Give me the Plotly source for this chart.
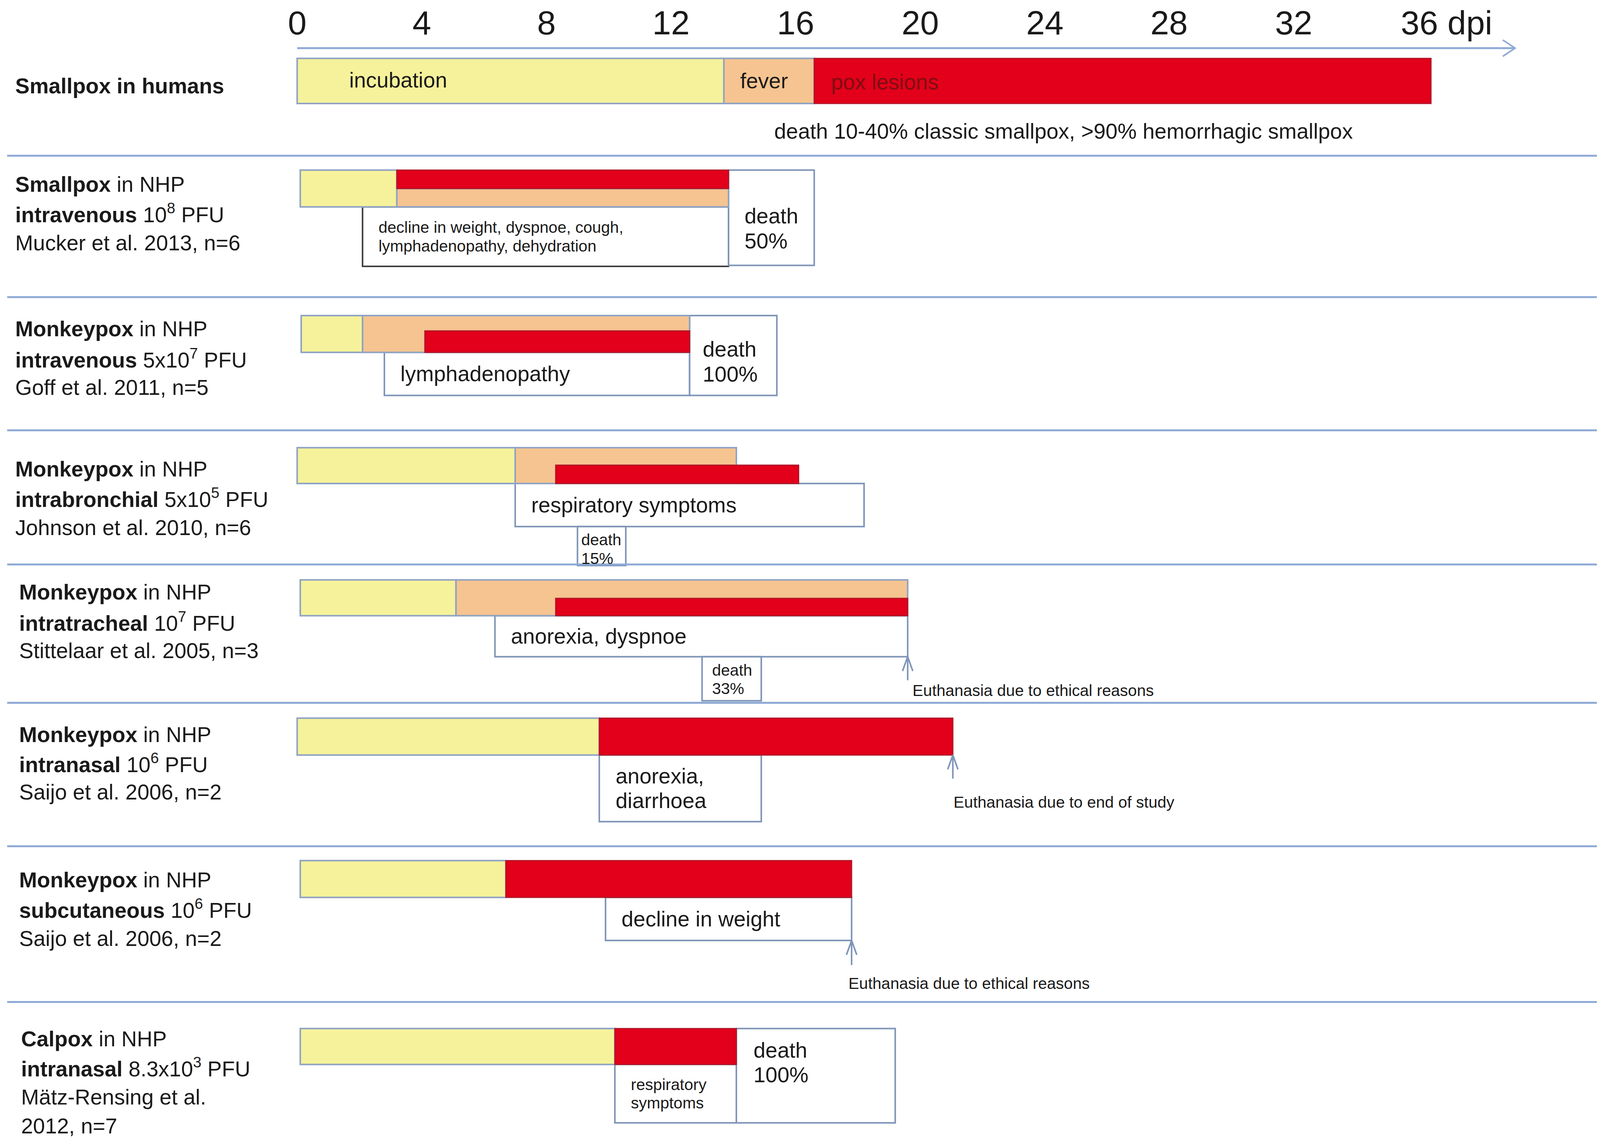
import plotly.graph_objects as go

WIN_W, WIN_H = 4113, 2924
S = WIN_W / 1568.0      # reference-pixel to output-pixel scale
MARGIN = 8              # browser default body margin (px)
W, H = WIN_W - 2 * MARGIN, WIN_H - 2 * MARGIN   # figure fits the window without scrollbars
PX_PER_DAY = 30.4       # reference pixels per day
X0_PX = 290.0           # reference pixel of day 0
PAGE_OFF = MARGIN / S   # page margin in reference pixels

# ---------------- data (days post infection) ----------------
row_names = ["Smallpox humans", "Smallpox NHP iv", "Monkeypox NHP iv", "Monkeypox NHP ib",
             "Monkeypox NHP it", "Monkeypox NHP in", "Monkeypox NHP sc", "Calpox NHP in"]
label_lines = [
    ["<b>Smallpox in humans</b>"],
    ["<b>Smallpox</b> in NHP", "<b>intravenous</b> 10<sup>8</sup> PFU", "Mucker et al. 2013, n=6"],
    ["<b>Monkeypox</b> in NHP", "<b>intravenous</b> 5x10<sup>7</sup> PFU", "Goff et al. 2011, n=5"],
    ["<b>Monkeypox</b> in NHP", "<b>intrabronchial</b> 5x10<sup>5</sup> PFU", "Johnson et al. 2010, n=6"],
    ["<b>Monkeypox</b> in NHP", "<b>intratracheal</b> 10<sup>7</sup> PFU", "Stittelaar et al. 2005, n=3"],
    ["<b>Monkeypox</b> in NHP", "<b>intranasal</b> 10<sup>6</sup> PFU", "Saijo et al. 2006, n=2"],
    ["<b>Monkeypox</b> in NHP", "<b>subcutaneous</b> 10<sup>6</sup> PFU", "Saijo et al. 2006, n=2"],
    ["<b>Calpox</b> in NHP", "<b>intranasal</b> 8.3x10<sup>3</sup> PFU", "Mätz-Rensing et al.", "2012, n=7"],
]
incub_start = [0.0, 0.1, 0.13, 0.0, 0.1, 0.0, 0.1, 0.1]
incub_end = [13.7, 3.2, 2.1, 7.0, 5.1, 9.7, 6.7, 10.2]
fever_start = [13.7, 3.2, 2.1, 7.0, 5.1, None, None, None]
fever_end = [16.6, 13.85, 12.6, 14.1, 19.6, None, None, None]
lesion_start = [16.6, 3.2, 4.1, 8.3, 8.3, 9.7, 6.7, 10.2]
lesion_end = [36.4, 13.85, 12.6, 16.1, 19.6, 21.05, 17.8, 14.1]
symptom_start = [None, 2.1, 2.8, 7.0, 6.35, 9.7, 9.9, 10.2]
symptom_end = [None, 13.85, 12.6, 18.2, 19.6, 14.9, 17.8, 14.1]
symptom_text = [None,
                "decline in weight, dyspnoe, cough,<br>lymphadenopathy, dehydration",
                "lymphadenopathy", "respiratory symptoms", "anorexia, dyspnoe",
                "anorexia,<br>diarrhoea", "decline in weight", "respiratory<br>symptoms"]
death_start = [None, 13.85, 12.6, 9.0, 13.0, None, None, 14.1]
death_end = [None, 16.6, 15.4, 10.55, 14.9, None, None, 19.2]
death_text = [None, "death<br>50%", "death<br>100%", "death<br>15%", "death<br>33%",
              None, None, "death<br>100%"]
euth_day = [None, None, None, None, 19.6, 21.05, 17.8, None]
euth_text = [None, None, None, None, "Euthanasia due to ethical reasons",
             "Euthanasia due to end of study", "Euthanasia due to ethical reasons", None]
human_phase_text = ["incubation", "fever", "pox lesions"]
human_note = "death 10-40% classic smallpox, >90% hemorrhagic smallpox"
tick_vals = [0, 4, 8, 12, 16, 20, 24, 28, 32, 36]
tick_text = ["0", "4", "8", "12", "16", "20", "24", "28", "32", "36 dpi"]
axis_end_day = 39.1

# ---------------- layout (reference pixels, y downwards) ----------------
label_y = [[84], [180, 208, 237], [321, 350, 378], [458, 486, 515], [578, 607, 635],
           [717, 745, 773], [859, 887, 916], [1014, 1042, 1071, 1099]]
label_x = [14, 14, 14, 14, 18, 18, 18, 20]
bar_top = [57, 166, 308, 437, 566, 701, 840, 1004]
bar_bot = [101, 202, 344, 472, 601, 737, 876, 1039]
fever_y = [(57, 101), (184, 202), (308, 344), (437, 472), (566, 601), None, None, None]
lesion_y = [(57, 101), (166, 184), (323, 344), (454, 472), (584, 601), (701, 737), (840, 876), (1004, 1039)]
symptom_y = [None, (202, 260), (344, 386), (472, 514), (601, 641), (737, 802), (876, 918), (1039, 1096)]
symptom_small = [False, True, False, False, False, False, False, True]
symptom_border = [None, "#3f3f3f", "#7f95b8", "#7f95b8", "#7f95b8", "#7f95b8", "#7f95b8", "#7f95b8"]
death_y = [None, (166, 259), (308, 386), (514, 552), (641, 684), None, None, (1004, 1096)]
death_text_y = [None, 223, 353, 536, 663, None, None, 1037]
death_text_dx = [None, 15, 12, 3, 9, None, None, 16]
death_small = [None, False, False, True, True, None, None, False]
euth_y = [None, None, None, None, (664, 641), (760, 737), (942, 918), None]
euth_text_pos = [None, None, None, None, (4, 674), (0, 783), (-4, 960), None]
sep_y = [152, 290, 420, 551, 686, 826, 978]
axis_y = 47

YELLOW = "#f6f29b"
ORANGE = "#f6c490"
RED = "#e2001a"
EDGE = "#8fa3c4"
SEP = "#8eaad6"
FONT = "Liberation Sans, Arial, sans-serif"
F_BIG = 55
F_SMALL = 41
F_TICK = 86

# visible window in reference pixels (compensating the page margin)
X_LO = PAGE_OFF
X_HI = PAGE_OFF + W / S
Y_LO = PAGE_OFF
Y_HI = PAGE_OFF + H / S


def bar_trace(starts, ends, spans, color, edge, edge_w):
    base, length, yc, wd, ec = [], [], [], [], []
    for i, (a, b, sp) in enumerate(zip(starts, ends, spans)):
        if a is None or sp is None:
            continue
        base.append(a)
        length.append(b - a)
        yc.append((sp[0] + sp[1]) / 2)
        wd.append(sp[1] - sp[0])
        ec.append(edge[i] if isinstance(edge, list) else edge)
    return go.Bar(orientation="h", base=base, x=length, y=yc, width=wd,
                  marker=dict(color=color, line=dict(color=ec, width=edge_w)),
                  hoverinfo="skip", showlegend=False)


def px2day(px):
    return (px - X0_PX) / PX_PER_DAY


fig = go.Figure()
incub_y = list(zip(bar_top, bar_bot))
fig.add_trace(bar_trace(symptom_start, symptom_end, symptom_y, "white", symptom_border, 4))
fig.add_trace(bar_trace(death_start, death_end, death_y, "white", "#7f95b8", 4))
fig.add_trace(bar_trace(incub_start, incub_end, incub_y, YELLOW, EDGE, 4))
fig.add_trace(bar_trace(fever_start, fever_end, fever_y, ORANGE, EDGE, 4))
fig.add_trace(bar_trace(lesion_start, lesion_end, lesion_y, RED, "#b0182a", 3))

# time axis arrow
chev_dx = 12 / PX_PER_DAY
fig.add_trace(go.Scatter(x=[0, axis_end_day], y=[axis_y, axis_y], mode="lines",
                         line=dict(color=SEP, width=5), hoverinfo="skip", showlegend=False))
fig.add_trace(go.Scatter(x=[axis_end_day - chev_dx, axis_end_day, axis_end_day - chev_dx],
                         y=[axis_y - 8, axis_y, axis_y + 8], mode="lines",
                         line=dict(color=SEP, width=4), hoverinfo="skip", showlegend=False))

# euthanasia arrows
for d, ys in zip(euth_day, euth_y):
    if d is None:
        continue
    y0, y1 = ys
    fig.add_trace(go.Scatter(x=[d, d], y=[y0, y1], mode="lines",
                             line=dict(color="#7f95b8", width=4), hoverinfo="skip", showlegend=False))
    cd = 5 / PX_PER_DAY
    fig.add_trace(go.Scatter(x=[d - cd, d, d + cd], y=[y1 + 14, y1, y1 + 14], mode="lines",
                             line=dict(color="#7f95b8", width=4), hoverinfo="skip", showlegend=False))

ann = []


def text(x, y, t, size, xanchor="left", color="#1a1a1a", xshift=0, yanchor="middle"):
    ann.append(dict(x=x, y=y, xref="x", yref="y", text=t, showarrow=False,
                    xanchor=xanchor, yanchor=yanchor, xshift=xshift,
                    font=dict(family=FONT, size=size, color=color)))


def multiline(x, yc, t, size, xshift=0):
    parts = t.split("<br>")
    gap = size * 1.15 / S
    for k, p in enumerate(parts):
        text(x, yc + (k - (len(parts) - 1) / 2) * gap, p, size, xshift=xshift)


# tick labels (anchored to the top edge of the page)
for v, t in zip(tick_vals, tick_text):
    if t == tick_text[-1] and len(t) > 2:
        text(v, Y_LO, t, F_TICK, xanchor="left", yanchor="top", xshift=-0.55 * F_TICK)
    else:
        text(v, Y_LO, t, F_TICK, xanchor="center", yanchor="top")

# row labels
for lines, ys, lx in zip(label_lines, label_y, label_x):
    for ln, yy in zip(lines, ys):
        text(px2day(lx), yy, ln, F_BIG)

# human phase labels
text(incub_start[0], 78, human_phase_text[0], F_BIG, xshift=50 * S)
text(fever_start[0], 79, human_phase_text[1], F_BIG, xshift=15 * S)
text(lesion_start[0], 80, human_phase_text[2], F_BIG, color="#7d0d12", xshift=16 * S)
text(px2day(755), 128, human_note, F_BIG)

# symptom texts
for a, sp, t, sm in zip(symptom_start, symptom_y, symptom_text, symptom_small):
    if a is None:
        continue
    multiline(a, (sp[0] + sp[1]) / 2, t, F_SMALL if sm else F_BIG, xshift=15 * S)

# death texts
for a, t, yy, dx, sm in zip(death_start, death_text, death_text_y, death_text_dx, death_small):
    if a is None:
        continue
    multiline(a, yy, t, F_SMALL if sm else F_BIG, xshift=dx * S)

# euthanasia texts
for d, t, pos in zip(euth_day, euth_text, euth_text_pos):
    if d is None:
        continue
    text(d, pos[1], t, F_SMALL, xshift=pos[0] * S)

shapes = [dict(type="line", xref="x", yref="y", x0=px2day(7), x1=px2day(1560),
               y0=y, y1=y, line=dict(color=SEP, width=5)) for y in sep_y]

fig.update_layout(
    width=W, height=H, margin=dict(l=0, r=0, t=0, b=0),
    paper_bgcolor="white", plot_bgcolor="white",
    barmode="overlay",
    xaxis=dict(range=[px2day(X_LO), px2day(X_HI)], visible=False, fixedrange=True),
    yaxis=dict(range=[Y_HI, Y_LO], visible=False, fixedrange=True),
    annotations=ann, shapes=shapes,
    font=dict(family=FONT),
)
fig.write_html("out.html")
